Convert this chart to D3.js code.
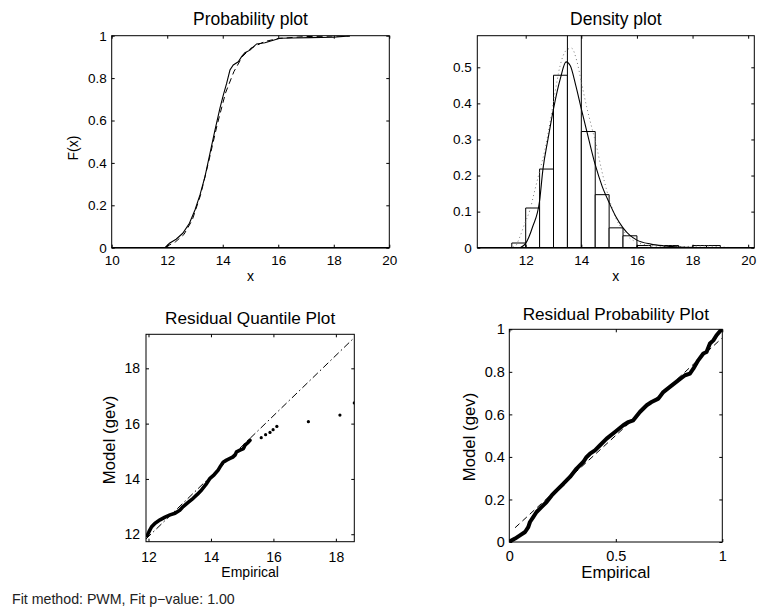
<!DOCTYPE html>
<html>
<head>
<meta charset="utf-8">
<script src="https://cdn.jsdelivr.net/npm/d3@7"></script>
<style>
  body { margin: 0; background: #fff; }
  svg { display: block; font-family: "Liberation Sans", Arial, Helvetica, sans-serif; }
</style>
</head>
<body>
<svg id="fig" width="757" height="612"></svg>
<script>
// ---------- Probability plot: empirical CDF (solid) and fitted GEV CDF (dashed)
const ecdfX = [11.92, 12.08, 12.32, 12.56, 12.80, 13.00, 13.18, 13.36, 13.54, 13.72, 13.90, 14.02, 14.14, 14.26, 14.38, 14.56, 14.68, 14.80, 14.98, 15.22, 15.52, 15.76, 16.06, 16.50, 17.14, 17.98, 18.58];
const ecdfY = [0.000, 0.021, 0.040, 0.068, 0.115, 0.178, 0.249, 0.335, 0.445, 0.555, 0.658, 0.720, 0.775, 0.838, 0.862, 0.877, 0.901, 0.920, 0.932, 0.961, 0.967, 0.976, 0.988, 0.989, 0.991, 0.993, 0.999];
const fitCdfX = [11.95, 12.30, 12.60, 12.90, 13.20, 13.50, 13.80, 14.10, 14.40, 14.70, 15.00, 15.50, 16.00, 17.00, 18.58];
const fitCdfY = [0.004, 0.028, 0.062, 0.130, 0.248, 0.410, 0.580, 0.730, 0.830, 0.900, 0.940, 0.972, 0.987, 0.996, 0.999];
const probXTicks = [10, 12, 14, 16, 18, 20];
const probYTicks = [0, 0.2, 0.4, 0.6, 0.8, 1];

// ---------- Density plot: histogram (bin width 0.5), fitted GEV pdf (solid), kernel estimate (dotted)
const binLeft = [11.0, 11.5, 12.0, 12.5, 13.0, 13.5, 14.0, 14.5, 15.0, 15.5, 16.0, 16.5, 17.0, 17.5, 18.0, 18.5, 19.0, 19.5];
const binDensity = [0, 0.013, 0.110, 0.218, 0.478, 0.600, 0.322, 0.147, 0.055, 0.033, 0.006, 0, 0.006, 0, 0.006, 0.006, 0, 0];
const binWidth = 0.5;
const gevPdfX = [11.80, 12.00, 12.25, 12.50, 12.62, 12.80, 13.00, 13.25, 13.45, 13.60, 13.80, 14.00, 14.20, 14.50, 14.75, 15.00, 15.25, 15.50, 15.75, 16.00, 16.50, 17.00, 17.50, 18.50, 20.20];
const gevPdfY = [0.000, 0.012, 0.058, 0.130, 0.217, 0.300, 0.385, 0.470, 0.515, 0.505, 0.450, 0.385, 0.322, 0.230, 0.170, 0.125, 0.085, 0.055, 0.034, 0.021, 0.010, 0.005, 0.002, 0.0005, 0.000];
const kdeX = [11.40, 11.61, 11.79, 11.97, 12.15, 12.33, 12.51, 12.69, 12.87, 13.05, 13.23, 13.47, 13.65, 13.83, 14.01, 14.19, 14.37, 14.55, 14.73, 14.91, 15.09, 15.27, 15.45, 15.69, 16.00, 16.40, 16.80, 17.20, 17.60, 18.00, 18.50, 19.00, 19.50];
const kdeY = [0.000, 0.003, 0.030, 0.068, 0.104, 0.160, 0.215, 0.271, 0.345, 0.428, 0.502, 0.548, 0.553, 0.520, 0.456, 0.391, 0.335, 0.280, 0.215, 0.160, 0.114, 0.077, 0.054, 0.030, 0.015, 0.007, 0.004, 0.005, 0.003, 0.004, 0.005, 0.002, 0.000];
const densXTicks = [12, 14, 16, 18, 20];
const densYTicks = [0, 0.1, 0.2, 0.3, 0.4, 0.5];

// ---------- Residual quantile plot: empirical vs model quantiles
const qqX = [11.96, 12.02, 12.10, 12.21, 12.37, 12.53, 12.69, 12.85, 13.00, 13.11, 13.27, 13.43, 13.57, 13.70, 13.84, 13.97, 14.10, 14.23, 14.31, 14.39, 14.50, 14.61, 14.70, 14.77, 14.82, 14.93, 15.04, 15.09, 15.17, 15.25];
const qqY = [11.95, 12.10, 12.27, 12.40, 12.52, 12.62, 12.70, 12.76, 12.87, 13.00, 13.15, 13.30, 13.45, 13.60, 13.80, 14.02, 14.15, 14.32, 14.47, 14.60, 14.68, 14.74, 14.79, 14.86, 14.98, 15.04, 15.10, 15.22, 15.30, 15.40];
const qqTailX = [15.61, 15.75, 15.89, 15.99, 16.11, 17.12, 18.13, 18.59];
const qqTailY = [15.49, 15.60, 15.68, 15.78, 15.90, 16.07, 16.31, 16.75];
const qqRefX = [11.92, 18.59];
const qqRefY = [11.83, 19.11];
const qqXTicks = [12, 14, 16, 18];
const qqYTicks = [12, 14, 16, 18];

// ---------- Residual probability plot: empirical vs model probabilities
const ppX = [0.003, 0.027, 0.050, 0.074, 0.089, 0.097, 0.113, 0.128, 0.152, 0.175, 0.199, 0.222, 0.254, 0.285, 0.316, 0.347, 0.363, 0.379, 0.402, 0.426, 0.457, 0.496, 0.535, 0.559, 0.582, 0.613, 0.645, 0.668, 0.700, 0.723, 0.754, 0.793, 0.825, 0.848, 0.864, 0.887, 0.911, 0.926, 0.942, 0.958, 0.973, 0.997];
const ppY = [0.003, 0.016, 0.031, 0.047, 0.070, 0.094, 0.118, 0.141, 0.165, 0.188, 0.219, 0.243, 0.274, 0.306, 0.345, 0.376, 0.400, 0.415, 0.431, 0.455, 0.486, 0.517, 0.549, 0.564, 0.572, 0.611, 0.643, 0.658, 0.674, 0.705, 0.729, 0.760, 0.784, 0.792, 0.815, 0.854, 0.886, 0.893, 0.933, 0.948, 0.972, 1.000];
const ppRefX = [0.027, 1.0];
const ppRefY = [0.067, 0.960];
const ppXTicks = [0, 0.5, 1];
const ppYTicks = [0, 0.2, 0.4, 0.6, 0.8, 1];

const footerText = "Fit method: PWM, Fit p\u2212value: 1.00";

// ---------- drawing helpers
const svg = d3.select("#fig");
const fmt = d3.format("~g");
const zip = (xs, ys) => xs.map((v, i) => [v, ys[i]]);

function makePanel(cfg) {
  const g = svg.append("g");
  const x = d3.scaleLinear().domain(cfg.xDomain).range([cfg.left, cfg.right]);
  const y = d3.scaleLinear().domain(cfg.yDomain).range([cfg.bottom, cfg.top]);
  const clipId = "clip-" + cfg.id;
  svg.append("clipPath").attr("id", clipId).append("rect")
    .attr("x", cfg.left).attr("y", cfg.top)
    .attr("width", cfg.right - cfg.left).attr("height", cfg.bottom - cfg.top);
  const plot = g.append("g").attr("clip-path", `url(#${clipId})`);
  return { g, x, y, plot, cfg };
}

function styleAxis(sel, fs) {
  sel.select(".domain").remove();
  sel.selectAll(".tick line").attr("stroke", "#000").attr("stroke-width", 1);
  sel.selectAll(".tick text").attr("fill", "#000").attr("font-size", fs)
    .attr("font-family", '"Liberation Sans", Arial, Helvetica, sans-serif');
}

function drawFrame(p) {
  const { g, x, y, cfg } = p;
  const tl = 3;
  g.append("g").attr("transform", `translate(0,${cfg.bottom})`)
    .call(d3.axisBottom(x).tickValues(cfg.xTicks).tickFormat(fmt).tickSizeInner(-tl).tickSizeOuter(0).tickPadding(cfg.xPad))
    .call(s => styleAxis(s, cfg.tickFs));
  g.append("g").attr("transform", `translate(${cfg.left},0)`)
    .call(d3.axisLeft(y).tickValues(cfg.yTicks).tickFormat(fmt).tickSizeInner(-tl).tickSizeOuter(0).tickPadding(cfg.yPad))
    .call(s => styleAxis(s, cfg.tickFs));
  g.append("g").attr("transform", `translate(0,${cfg.top})`)
    .call(d3.axisTop(x).tickValues(cfg.xTicks).tickFormat("").tickSizeInner(-tl).tickSizeOuter(0))
    .call(s => styleAxis(s, cfg.tickFs));
  g.append("g").attr("transform", `translate(${cfg.right},0)`)
    .call(d3.axisRight(y).tickValues(cfg.yTicks).tickFormat("").tickSizeInner(-tl).tickSizeOuter(0))
    .call(s => styleAxis(s, cfg.tickFs));
  g.append("rect")
    .attr("x", cfg.left).attr("y", cfg.top)
    .attr("width", cfg.right - cfg.left).attr("height", cfg.bottom - cfg.top)
    .attr("fill", "none").attr("stroke", "#000").attr("stroke-width", 1);
  if (cfg.heavyBase) {
    g.append("line").attr("x1", cfg.left).attr("x2", cfg.right)
      .attr("y1", cfg.bottom).attr("y2", cfg.bottom)
      .attr("stroke", "#000").attr("stroke-width", 1.6);
  }
  // titles and labels
  const cx = (cfg.left + cfg.right) / 2;
  g.append("text").attr("x", cx).attr("y", cfg.titleY)
    .attr("text-anchor", "middle").attr("font-size", cfg.titleFs).text(cfg.title);
  g.append("text").attr("x", cx).attr("y", cfg.xLabelY)
    .attr("text-anchor", "middle").attr("font-size", cfg.xLabelFs).text(cfg.xLabel);
  if (cfg.yLabel) {
    g.append("text")
      .attr("transform", `translate(${cfg.yLabelX},${cfg.yLabelCy}) rotate(-90)`)
      .attr("text-anchor", "middle").attr("font-size", cfg.yLabelFs).text(cfg.yLabel);
  }
}

// ---------- Panel 1: Probability plot
const p1 = makePanel({
  id: "prob", left: 111.7, right: 389.3, top: 35.7, bottom: 247.7,
  xDomain: [10, 20], yDomain: [0, 1], xTicks: probXTicks, yTicks: probYTicks,
  tickFs: 13.5, xPad: 7.5, yPad: 5, heavyBase: true,
  title: "Probability plot", titleY: 25, titleFs: 17.5,
  xLabel: "x", xLabelY: 281, xLabelFs: 14,
  yLabel: "F(x)", yLabelX: 78, yLabelCy: 148, yLabelFs: 14
});
{
  const line = d3.line().x(d => p1.x(d[0])).y(d => p1.y(d[1]));
  p1.plot.append("path").datum(zip(fitCdfX, fitCdfY)).attr("d", line)
    .attr("fill", "none").attr("stroke", "#000").attr("stroke-width", 1).attr("stroke-dasharray", "6,4");
  p1.plot.append("path").datum(zip(ecdfX, ecdfY)).attr("d", line)
    .attr("fill", "none").attr("stroke", "#000").attr("stroke-width", 1.1);
}
drawFrame(p1);

// ---------- Panel 2: Density plot
const p2 = makePanel({
  id: "dens", left: 477.3, right: 754.3, top: 35.7, bottom: 247.7,
  xDomain: [10.26, 20.22], yDomain: [0, 0.5876], xTicks: densXTicks, yTicks: densYTicks,
  tickFs: 13.5, xPad: 8, yPad: 5.6, heavyBase: true,
  title: "Density plot", titleY: 25, titleFs: 17.5,
  xLabel: "x", xLabelY: 281, xLabelFs: 14
});
{
  const bars = binLeft.map((b, i) => ({ x0: b, x1: b + binWidth, v: binDensity[i] }));
  p2.plot.selectAll("path.bar").data(bars).join("path").attr("class", "bar")
    .attr("d", d => {
      const xa = p2.x(d.x0), xb = p2.x(d.x1), y0 = p2.y(0), y1 = p2.y(d.v);
      return `M${xa},${y0}V${y1}H${xb}V${y0}Z`;
    })
    .attr("fill", "#fff").attr("stroke", "#000").attr("stroke-width", 1);
  const line = d3.line().x(d => p2.x(d[0])).y(d => p2.y(d[1])).curve(d3.curveMonotoneX);
  p2.plot.append("path").datum(zip(kdeX, kdeY)).attr("d", line)
    .attr("fill", "none").attr("stroke", "#777").attr("stroke-width", 1).attr("stroke-dasharray", "1,3");
  p2.plot.append("path").datum(zip(gevPdfX, gevPdfY)).attr("d", line)
    .attr("fill", "none").attr("stroke", "#000").attr("stroke-width", 1.1);
}
drawFrame(p2);

// ---------- Panel 3: Residual Quantile Plot
const p3 = makePanel({
  id: "qq", left: 146, right: 354.3, top: 334.3, bottom: 541.7,
  xDomain: [11.92, 18.59], yDomain: [11.73, 19.23], xTicks: qqXTicks, yTicks: qqYTicks,
  tickFs: 14, xPad: 10, yPad: 6,
  title: "Residual Quantile Plot", titleY: 323.5, titleFs: 17.2,
  xLabel: "Empirical", xLabelY: 576.5, xLabelFs: 14,
  yLabel: "Model (gev)", yLabelX: 115, yLabelCy: 440, yLabelFs: 16.8
});
{
  const line = d3.line().x(d => p3.x(d[0])).y(d => p3.y(d[1]));
  p3.plot.append("path").datum(zip(qqRefX, qqRefY)).attr("d", line)
    .attr("fill", "none").attr("stroke", "#000").attr("stroke-width", 1).attr("stroke-dasharray", "7,3,1.5,3");
  p3.plot.append("path").datum(zip(qqX, qqY)).attr("d", line)
    .attr("fill", "none").attr("stroke", "#000").attr("stroke-width", 3.6)
    .attr("stroke-linecap", "round").attr("stroke-linejoin", "round");
  p3.plot.selectAll("circle.tail").data(zip(qqTailX, qqTailY)).join("circle").attr("class", "tail")
    .attr("cx", d => p3.x(d[0])).attr("cy", d => p3.y(d[1])).attr("r", 1.6).attr("fill", "#000");
}
drawFrame(p3);

// ---------- Panel 4: Residual Probability Plot
const p4 = makePanel({
  id: "pp", left: 509.3, right: 722.3, top: 329.3, bottom: 542,
  xDomain: [0, 1], yDomain: [0, 1], xTicks: ppXTicks, yTicks: ppYTicks,
  tickFs: 14.5, xPad: 8.5, yPad: 4.5,
  title: "Residual Probability Plot", titleY: 319.5, titleFs: 17.2,
  xLabel: "Empirical", xLabelY: 578, xLabelFs: 16.8,
  yLabel: "Model (gev)", yLabelX: 475, yLabelCy: 437, yLabelFs: 16.8
});
{
  const line = d3.line().x(d => p4.x(d[0])).y(d => p4.y(d[1]));
  p4.plot.append("path").datum(zip(ppRefX, ppRefY)).attr("d", line)
    .attr("fill", "none").attr("stroke", "#000").attr("stroke-width", 1).attr("stroke-dasharray", "6,4");
  p4.plot.append("path").datum(zip(ppX, ppY)).attr("d", line)
    .attr("fill", "none").attr("stroke", "#000").attr("stroke-width", 4)
    .attr("stroke-linecap", "round").attr("stroke-linejoin", "round");
}
drawFrame(p4);

// ---------- footer
svg.append("text").attr("x", 12).attr("y", 603.5)
  .attr("font-size", 14.2).attr("fill", "#222").text(footerText);
</script>
</body>
</html>
